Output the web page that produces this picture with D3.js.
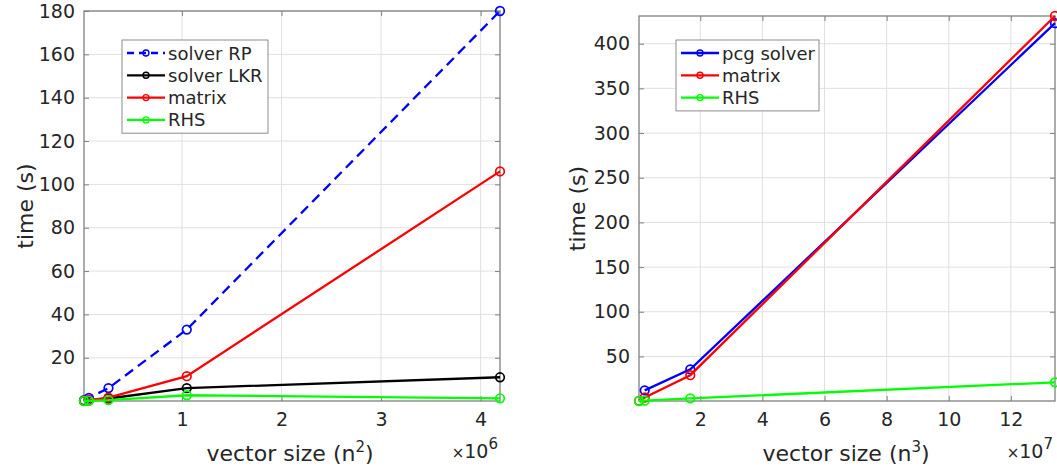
<!DOCTYPE html>
<html lang="en">
<head>
  <meta charset="UTF-8">
  <title>Timing vs vector size</title>
  <style>
    * { margin: 0; }
    body { background: #fff; font-family: "DejaVu Sans", sans-serif; }
    svg text { fill: #262626; font-family: "DejaVu Sans", sans-serif; }
    .grid line { stroke: #e0e0e0; stroke-width: 1; }
    .axis line { stroke: #808080; }
    .axis path { display: none; }
  </style>
</head>
<body>
  <div id="chart"></div>
  <script src="https://cdnjs.cloudflare.com/ajax/libs/d3/7.8.5/d3.min.js"></script>
  <script>
    // left panel: 2D problem, vector size n^2
    const sizes2D = [16384, 65536, 262144, 1048576, 4194304];
    const solverRP = [0.4, 1.5, 6, 33, 180];
    const solverLKR = [0.1, 0.3, 1.2, 6, 11];
    const matrix2D = [0.1, 0.5, 1.6, 11.5, 106];
    const rhs2D = [0.05, 0.15, 0.5, 2.7, 1.3];
    const ticks2D = [1e6, 2e6, 3e6, 4e6];
    const yTicks2D = [20, 40, 60, 80, 100, 120, 140, 160, 180];

    // right panel: 3D problem, vector size n^3
    const sizes3D = [262144, 2097152, 16777216, 134217728];
    const pcgSolver = [null, 12, 35.5, 423];
    const matrix3D = [0.3, 4, 29, 431];
    const rhs3D = [0.1, 0.5, 3, 21];
    const ticks3D = [2e7, 4e7, 6e7, 8e7, 10e7, 12e7];
    const yTicks3D = [50, 100, 150, 200, 250, 300, 350, 400];

    const W = 1057, H = 470;
    const svg = d3.select('#chart').append('svg')
      .attr('width', W).attr('height', H);

    function drawPanel(cfg) {
      const g = svg.append('g');
      const x = d3.scaleLinear().domain(d3.extent(cfg.xs)).range([cfg.left, cfg.right]);
      const allY = cfg.series.flatMap(s => s.values.filter(v => v != null));
      const y = d3.scaleLinear().domain(d3.extent(allY)).range([cfg.bottom, cfg.top]);

      // grid
      const grid = g.append('g').attr('class', 'grid');
      grid.selectAll('.gx').data(cfg.xTicks).enter().append('line')
        .attr('x1', d => x(d)).attr('x2', d => x(d))
        .attr('y1', cfg.top).attr('y2', cfg.bottom);
      grid.selectAll('.gy').data(cfg.yTicks).enter().append('line')
        .attr('x1', cfg.left).attr('x2', cfg.right)
        .attr('y1', d => y(d)).attr('y2', d => y(d));

      // axes with inward ticks, mirrored on top/right
      const xAxis = d3.axisBottom(x).tickValues(cfg.xTicks)
        .tickFormat(d => d / cfg.xExp).tickSizeInner(-5).tickSizeOuter(0).tickPadding(12);
      const yAxis = d3.axisLeft(y).tickValues(cfg.yTicks)
        .tickSizeInner(-5).tickSizeOuter(0).tickPadding(9);
      const gx = g.append('g').attr('class', 'axis')
        .attr('transform', `translate(0,${cfg.bottom})`).call(xAxis);
      const gy = g.append('g').attr('class', 'axis')
        .attr('transform', `translate(${cfg.left},0)`).call(yAxis);
      [gx, gy].forEach(a => a.selectAll('text').style('font-size', '19px').attr('fill', '#262626'));
      g.append('g').attr('class', 'axis')
        .attr('transform', `translate(0,${cfg.top})`)
        .call(d3.axisTop(x).tickValues(cfg.xTicks).tickFormat('').tickSizeInner(-5).tickSizeOuter(0));
      g.append('g').attr('class', 'axis')
        .attr('transform', `translate(${cfg.right},0)`)
        .call(d3.axisRight(y).tickValues(cfg.yTicks).tickFormat('').tickSizeInner(-5).tickSizeOuter(0));

      g.append('rect')
        .attr('x', cfg.left).attr('y', cfg.top)
        .attr('width', cfg.right - cfg.left).attr('height', cfg.bottom - cfg.top)
        .attr('fill', 'none').attr('stroke', '#808080').attr('stroke-width', 1.3);

      // series
      const line = d3.line()
        .defined(d => d.v != null)
        .x(d => x(d.x)).y(d => y(d.v));
      cfg.series.forEach(s => {
        const pts = cfg.xs.map((xv, i) => ({ x: xv, v: s.values[i] }));
        g.append('path').datum(pts)
          .attr('d', line)
          .attr('fill', 'none').attr('stroke', s.color).attr('stroke-width', 2.3)
          .attr('stroke-dasharray', s.dash || null);
        g.selectAll(null).data(pts.filter(d => d.v != null)).enter().append('circle')
          .attr('cx', d => x(d.x)).attr('cy', d => y(d.v)).attr('r', 4.3)
          .attr('fill', 'none').attr('stroke', s.color).attr('stroke-width', 1.7);
      });

      // axis labels
      g.append('text')
        .attr('transform', `translate(${cfg.yLabelX},${(cfg.top + cfg.bottom) / 2}) rotate(-90)`)
        .attr('text-anchor', 'middle').style('font-size', '22px').text('time (s)');
      const xl = g.append('text')
        .attr('x', cfg.xLabelX).attr('y', 461)
        .attr('text-anchor', 'middle').style('font-size', '22px');
      xl.append('tspan').text('vector size (n');
      xl.append('tspan').attr('dy', -9).style('font-size', '15px').text(cfg.power);
      xl.append('tspan').attr('dy', 9).text(')');

      const ex = g.append('text')
        .attr('x', cfg.right - 2).attr('y', 458)
        .attr('text-anchor', 'end').style('font-size', '19px');
      ex.append('tspan').style('font-size', '15px').text('\u00d7');
      ex.append('tspan').text('10');
      ex.append('tspan').attr('dy', -9).style('font-size', '15px').text(cfg.expLabel);

      // legend
      const lg = g.append('g');
      lg.append('rect')
        .attr('x', cfg.legend.x).attr('y', cfg.legend.y)
        .attr('width', cfg.legend.w).attr('height', cfg.series.length * 22.3 + 4)
        .attr('fill', '#fff').attr('stroke', '#8c8c8c').attr('stroke-width', 1);
      cfg.series.forEach((s, i) => {
        const cy = cfg.legend.y + 13 + i * 22.3;
        const lx = cfg.legend.x + 5;
        lg.append('line')
          .attr('x1', lx).attr('x2', lx + 38).attr('y1', cy).attr('y2', cy)
          .attr('stroke', s.color).attr('stroke-width', 2.3)
          .attr('stroke-dasharray', s.dash ? '7,5' : null);
        lg.append('circle')
          .attr('cx', lx + 19).attr('cy', cy).attr('r', 3)
          .attr('fill', 'none').attr('stroke', s.color).attr('stroke-width', 1.4);
        lg.append('text')
          .attr('x', lx + 41).attr('y', cy + 6.5)
          .style('font-size', '18px').text(s.name);
      });
    }

    drawPanel({
      xs: sizes2D, xTicks: ticks2D, yTicks: yTicks2D, xExp: 1e6, expLabel: '6', power: '2',
      left: 84, right: 500, top: 11, bottom: 401,
      yLabelX: 33, xLabelX: 290,
      legend: { x: 122, y: 40, w: 146 },
      series: [
        { name: 'solver RP', values: solverRP, color: '#0000ff', dash: '10,6' },
        { name: 'solver LKR', values: solverLKR, color: '#000000' },
        { name: 'matrix', values: matrix2D, color: '#ff0000' },
        { name: 'RHS', values: rhs2D, color: '#00ff00' }
      ]
    });

    drawPanel({
      xs: sizes3D, xTicks: ticks3D, yTicks: yTicks3D, xExp: 1e7, expLabel: '7', power: '3',
      left: 639, right: 1055, top: 16, bottom: 401,
      yLabelX: 585, xLabelX: 846,
      legend: { x: 676, y: 40, w: 143 },
      series: [
        { name: 'pcg solver', values: pcgSolver, color: '#0000ff' },
        { name: 'matrix', values: matrix3D, color: '#ff0000' },
        { name: 'RHS', values: rhs3D, color: '#00ff00' }
      ]
    });
  </script>
</body>
</html>
